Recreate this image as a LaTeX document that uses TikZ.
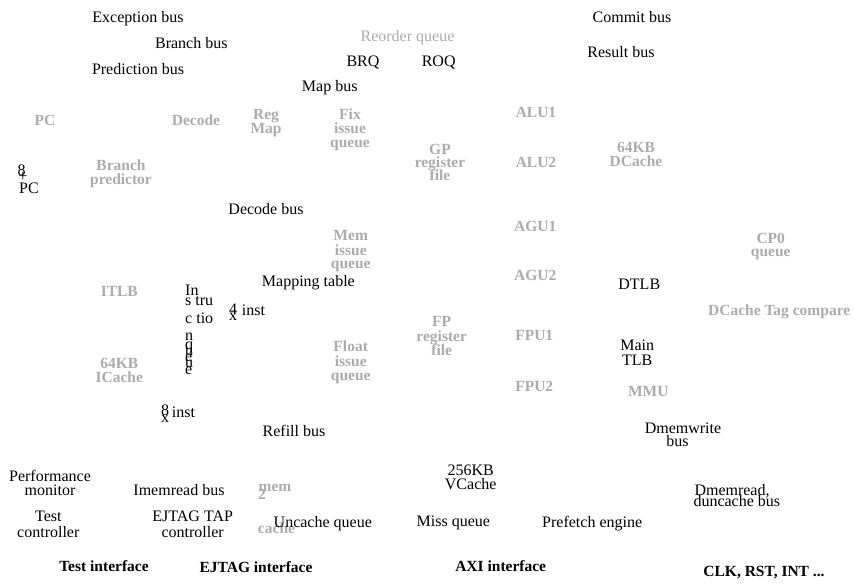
\documentclass[tikz,border=0pt]{standalone}
\usepackage{fontspec}
\setmainfont{Liberation Serif}
\definecolor{lgray}{RGB}{172,172,172}
\tikzset{
  lbl/.style={font=\fontsize{16}{16}\selectfont, anchor=base, inner sep=0pt, text=black},
  lblw/.style={lbl, anchor=base west},
  blbl/.style={font=\bfseries\fontsize{15.5}{15.5}\selectfont, anchor=base, inner sep=0pt, text=black},
  glbl/.style={font=\bfseries\fontsize{15.5}{15.5}\selectfont, anchor=base, inner sep=0pt, text=lgray},
  glblw/.style={glbl, anchor=base west},
  gnorm/.style={lbl, text=lgray}
}
\begin{document}
\begin{tikzpicture}[x=1pt,y=-1pt]
\path[use as bounding box, fill=white] (0,0) rectangle (855,584);
% gray labels
\node[gnorm] (reorder) at (407.5,41.7) {Reorder queue};
\node[glbl] (pcg) at (45,125) {PC};
\node[glbl] (decode) at (196,125) {Decode};
\node[glbl] (regA) at (266,119.3) {Reg};
\node[glbl] (regB) at (266,133.3) {Map};
\node[glbl] (bpA) at (121,170) {Branch};
\node[glbl] (bpB) at (121,184.3) {predictor};
\node[glbl] (fixA) at (350,119.5) {Fix};
\node[glbl] (fixB) at (350,133.5) {issue};
\node[glbl] (fixC) at (350,147.5) {queue};
\node[glbl] (gpA) at (440,154) {GP};
\node[glbl] (gpB) at (440,167) {register};
\node[glbl] (gpC) at (440,180) {file};
\node[glbl] (alu1) at (536,117.3) {ALU1};
\node[glbl] (alu2) at (536,167.7) {ALU2};
\node[glbl] (dcA) at (636,152.7) {64KB};
\node[glbl] (dcB) at (636,166) {DCache};
\node[glbl] (memA) at (350.7,240) {Mem};
\node[glbl] (memB) at (350.7,255) {issue};
\node[glbl] (memC) at (350.7,268.3) {queue};
\node[glbl] (agu1) at (535.3,231.7) {AGU1};
\node[glbl] (agu2) at (535.3,280) {AGU2};
\node[glbl] (fpA) at (441.7,326.7) {FP};
\node[glbl] (fpB) at (441.7,341) {register};
\node[glbl] (fpC) at (441.7,355) {file};
\node[glbl] (fpu1) at (534.3,340) {FPU1};
\node[glbl] (fpu2) at (534.3,391.7) {FPU2};
\node[glbl] (flA) at (350.7,351.7) {Float};
\node[glbl] (flB) at (350.7,366.7) {issue};
\node[glbl] (flC) at (350.7,380) {queue};
\node[glbl] (cpA) at (770.7,243.3) {CP0};
\node[glbl] (cpB) at (770.7,256.7) {queue};
\node[glbl] (dtag) at (779.2,315) {DCache Tag compare};
\node[glbl] (mmu) at (648.3,396.7) {MMU};
\node[glbl] (itlb) at (119.3,296.7) {ITLB};
\node[glbl] (icA) at (119.3,368.3) {64KB};
\node[glbl] (icB) at (119.3,382.7) {ICache};
\node[glbl] (m2cA) at (275,491.7) {mem};
\node[glblw] (m2cB) at (258,499) {2};
\node[glbl] (m2cC) at (276.5,533.3) {cache};
% black labels
\node[lbl] (exc) at (138,22) {Exception bus};
\node[lbl] (brb) at (191.3,48.3) {Branch bus};
\node[lbl] (prb) at (138,74) {Prediction bus};
\node[lbl] (commit) at (632,22) {Commit bus};
\node[lbl] (result) at (621,57) {Result bus};
\node[lbl] (brq) at (363,66.7) {BRQ};
\node[lbl] (roq) at (438.7,66.7) {ROQ};
\node[lbl] (mapbus) at (329.7,91.7) {Map bus};
\node[lbl] (pcA) at (21.5,175.5) {8};
\node[lbl] (pcB) at (23,181) {+};
\node[lbl] (pcC) at (29,193.5) {PC};
\node[lbl] (decbus) at (266,214.3) {Decode bus};
\node[lbl] (mapt) at (308.4,286.7) {Mapping table};
\node[lblw] (iqA) at (185,295) {In};
\node[lblw] (iqB) at (185,305) {s tru};
\node[lblw] (iqC) at (185,323.3) {c tio};
\node[lblw] (iqD) at (185,340) {n};
\node[lblw] (iqE) at (185,349) {q};
\node[lblw] (iqF) at (185,355) {u};
\node[lblw] (iqG) at (185,361) {e};
\node[lblw] (iqH) at (185,367) {u};
\node[lblw] (iqI) at (185,374) {e};
\node[lblw] (fourA) at (229,314) {4};
\node[lblw] (fourB) at (229,320) {x};
\node[lblw] (fourC) at (241.7,315) {inst};
\node[lblw] (eightA) at (161,415) {8};
\node[lblw] (eightB) at (161,422) {x};
\node[lblw] (eightC) at (171.7,417.5) {inst};
\node[lbl] (refill) at (294,436) {Refill bus};
\node[lbl] (perfA) at (50,481.7) {Performance};
\node[lbl] (perfB) at (50,495) {monitor};
\node[lbl] (imem) at (179,495) {Imemread bus};
\node[lbl] (testA) at (48.3,521.7) {Test};
\node[lbl] (testB) at (48.3,537.3) {controller};
\node[lbl] (ejA) at (192.7,521.7) {EJTAG TAP};
\node[lbl] (ejB) at (192.7,537.3) {controller};
\node[lbl] (uncache) at (322.8,527) {Uncache queue};
\node[lbl] (vcA) at (470.7,475) {256KB};
\node[lbl] (vcB) at (470.7,489.3) {VCache};
\node[lbl] (miss) at (453.3,526.7) {Miss queue};
\node[lbl] (prefetch) at (592.2,527) {Prefetch engine};
\node[lbl] (dtlb) at (639.3,289.3) {DTLB};
\node[lbl] (tlbA) at (637.3,350.7) {Main};
\node[lbl] (tlbB) at (637.3,365) {TLB};
\node[lbl] (dmwA) at (683,433.3) {Dmemwrite};
\node[lbl] (dmwB) at (677.5,446.7) {bus};
\node[lblw] (dmrA) at (694.3,495) {Dmemread,};
\node[lblw] (dmrB) at (693.3,506.7) {duncache bus};
% bold black
\node[blbl] (testif) at (104,571.7) {Test interface};
\node[blbl] (ejtagif) at (256,572) {EJTAG interface};
\node[blbl] (axi) at (500.7,571.7) {AXI interface};
\node[blbl] (clk) at (764,576.7) {CLK, RST, INT ...};
\end{tikzpicture}
\end{document}
